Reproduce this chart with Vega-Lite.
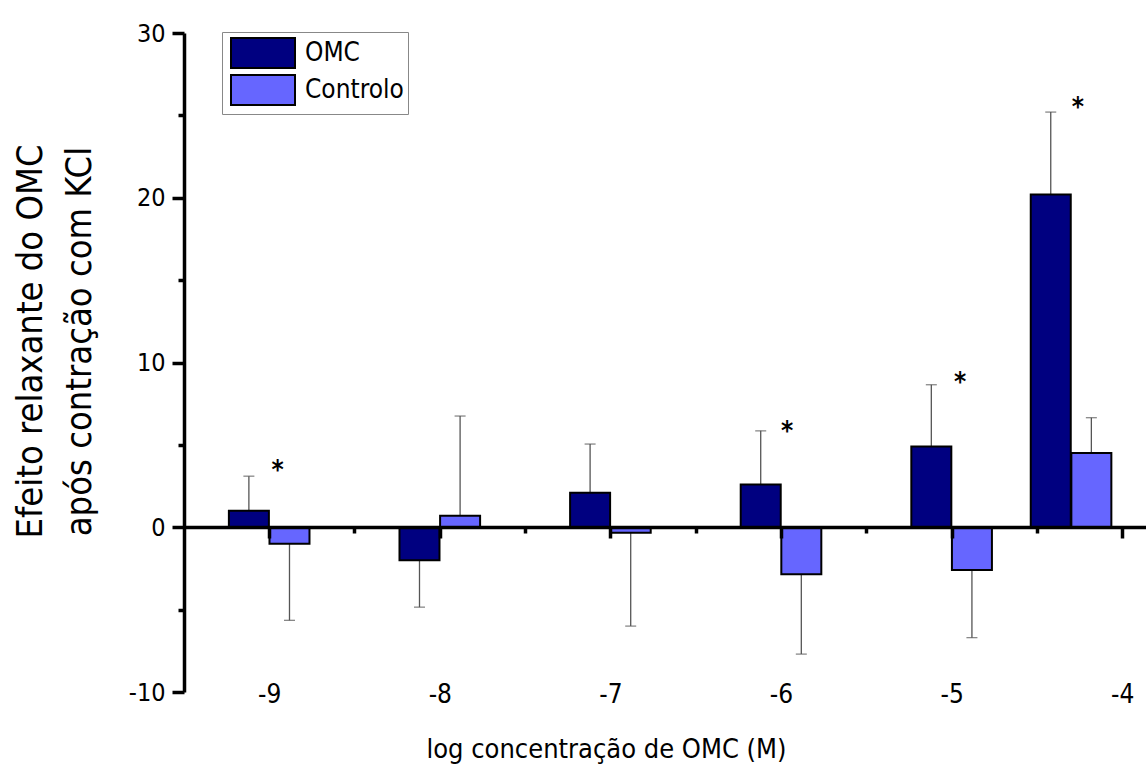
{
  "$schema": "https://vega.github.io/schema/vega-lite/v6.json",
  "width": 962,
  "height": 659,
  "autosize": {"type": "none"},
  "padding": {"left": 184, "top": 33, "right": 0, "bottom": 75},
  "config": {
    "view": {"stroke": null},
    "font": "DejaVu Sans Condensed, DejaVu Sans"
  },
  "datasets": {
    "barras": [
      {"grupo": -9, "serie": "OMC", "x": -9.119, "valor": 1.0, "fim": 3.1},
      {"grupo": -9, "serie": "Controlo", "x": -8.881, "valor": -1.0, "fim": -5.65},
      {"grupo": -8, "serie": "OMC", "x": -8.119, "valor": -2.0, "fim": -4.85},
      {"grupo": -8, "serie": "Controlo", "x": -7.881, "valor": 0.7, "fim": 6.75},
      {"grupo": -7, "serie": "OMC", "x": -7.119, "valor": 2.1, "fim": 5.05},
      {"grupo": -7, "serie": "Controlo", "x": -6.881, "valor": -0.33, "fim": -6.0},
      {"grupo": -6, "serie": "OMC", "x": -6.119, "valor": 2.6, "fim": 5.85},
      {"grupo": -6, "serie": "Controlo", "x": -5.881, "valor": -2.85, "fim": -7.7},
      {"grupo": -5, "serie": "OMC", "x": -5.119, "valor": 4.9, "fim": 8.65},
      {"grupo": -5, "serie": "Controlo", "x": -4.881, "valor": -2.6, "fim": -6.7},
      {"grupo": -4.3, "serie": "OMC", "x": -4.419, "valor": 20.2, "fim": 25.2},
      {"grupo": -4.3, "serie": "Controlo", "x": -4.181, "valor": 4.5, "fim": 6.65}
    ],
    "asteriscos": [
      {"x": -8.95, "y": 3.85},
      {"x": -5.965, "y": 6.2},
      {"x": -4.95, "y": 9.2},
      {"x": -4.26, "y": 25.9}
    ]
  },
  "layer": [
    {
      "data": {"name": "barras"},
      "mark": {"type": "rule", "color": "#555555", "strokeWidth": 1.3},
      "encoding": {
        "x": {"field": "x", "type": "quantitative"},
        "y": {"field": "valor", "type": "quantitative"},
        "y2": {"field": "fim"}
      }
    },
    {
      "data": {"name": "barras"},
      "mark": {"type": "tick", "orient": "horizontal", "size": 11, "thickness": 1.3, "color": "#555555"},
      "encoding": {
        "x": {"field": "x", "type": "quantitative"},
        "y": {"field": "fim", "type": "quantitative"}
      }
    },
    {
      "data": {"name": "barras"},
      "mark": {"type": "bar", "width": 40, "stroke": "black", "strokeWidth": 2},
      "encoding": {
        "x": {
          "field": "x", "type": "quantitative",
          "scale": {"domain": [-9.47, -3.89], "nice": false, "zero": false},
          "axis": {
            "values": [-9, -8.5, -8, -7.5, -7, -6.5, -6, -5.5, -5, -4.5, -4],
            "offset": -165,
            "grid": false,
            "domainWidth": 3.5, "domainColor": "black",
            "tickColor": "black", "tickWidth": 3.5,
            "tickSize": {"condition": {"test": "datum.value % 1 === 0", "value": 11}, "value": 6},
            "labelExpr": "datum.value % 1 === 0 ? '' + datum.value : ''",
            "labelFontSize": 26, "labelColor": "black", "labelPadding": 143,
            "labelFlush": false, "labelOverlap": false,
            "title": "log concentração de OMC (M)",
            "titleFontSize": 27, "titleFontWeight": "normal", "titleColor": "black",
            "titleX": 422, "titleY": 230, "titleBaseline": "alphabetic", "titleAlign": "center",
            "zindex": 1
          }
        },
        "y": {
          "field": "valor", "type": "quantitative",
          "scale": {"domain": [-10, 30], "nice": false},
          "axis": {
            "values": [-10, -5, 0, 5, 10, 15, 20, 25, 30],
            "grid": false,
            "domainWidth": 3.5, "domainColor": "black",
            "tickColor": "black", "tickWidth": 3.5,
            "tickSize": {"condition": {"test": "datum.value % 10 === 0", "value": 12}, "value": 6},
            "labelExpr": "datum.value % 10 === 0 ? '' + datum.value : ''",
            "labelFontSize": 25, "labelColor": "black", "labelPadding": 7,
            "labelOverlap": false,
            "title": ["Efeito relaxante do OMC", "após contração com KCl"],
            "titleFontSize": 36, "titleFontWeight": "normal", "titleColor": "black",
            "titleAngle": -90, "titleX": -143, "titleY": 308,
            "titleBaseline": "alphabetic", "titleAlign": "center", "titleLineHeight": 49,
            "zindex": 1
          }
        },
        "color": {
          "field": "serie", "type": "nominal",
          "scale": {"domain": ["OMC", "Controlo"], "range": ["#000080", "#6666ff"]},
          "legend": {
            "orient": "none", "legendX": 38, "legendY": -1,
            "title": null,
            "symbolType": "M-0.75,-0.94H3.25V0.94H-0.75Z",
            "symbolSize": 1024,
            "symbolStrokeColor": "black", "symbolStrokeWidth": 2, "symbolOpacity": 1,
            "labelFontSize": 26, "labelColor": "black", "labelOffset": 45,
            "rowPadding": -6,
            "padding": 4, "strokeColor": "#888888", "fillColor": "white"
          }
        }
      }
    },
    {
      "data": {"name": "asteriscos"},
      "mark": {"type": "text", "text": "*", "fontSize": 26, "fontWeight": "bold", "baseline": "middle", "dy": 7, "color": "black"},
      "encoding": {
        "x": {"field": "x", "type": "quantitative"},
        "y": {"field": "y", "type": "quantitative"}
      }
    }
  ]
}
